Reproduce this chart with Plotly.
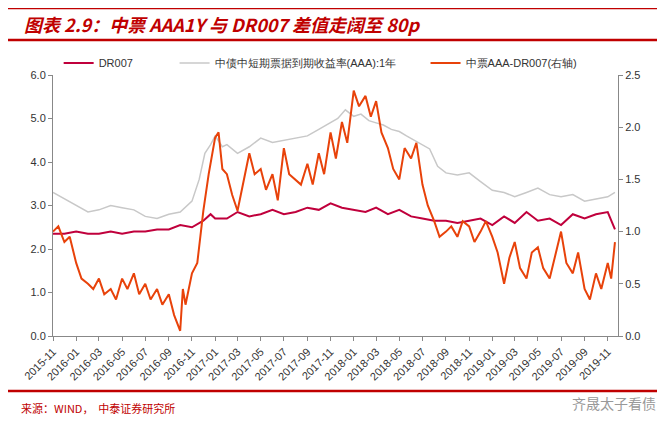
import plotly.graph_objects as go

# gray: 中债中短期票据到期收益率(AAA):1年, monthly
gray_dates = ["2015-11-01","2015-12-01","2016-01-01","2016-02-01","2016-03-01","2016-04-01","2016-05-01","2016-06-01","2016-07-01","2016-08-01","2016-09-01","2016-10-01","2016-11-01","2016-11-20","2016-12-05","2016-12-20","2017-01-01","2017-01-20","2017-02-01","2017-03-01","2017-04-01","2017-05-01","2017-06-01","2017-07-01","2017-08-01","2017-09-01","2017-10-01","2017-11-01","2017-11-20","2017-12-10","2018-01-01","2018-01-20","2018-02-10","2018-03-01","2018-03-20","2018-04-10","2018-05-01","2018-05-20","2018-06-10","2018-07-01","2018-07-20","2018-08-10","2018-09-01","2018-10-01","2018-11-01","2018-12-01","2019-01-01","2019-02-01","2019-03-01","2019-04-01","2019-05-01","2019-06-01","2019-07-01","2019-08-01","2019-09-01","2019-10-01","2019-11-01","2019-11-20"]
gray_vals = [3.30,3.15,3.00,2.85,2.90,3.00,2.95,2.90,2.75,2.70,2.80,2.85,3.10,3.60,4.20,4.40,4.60,4.35,4.40,4.20,4.35,4.55,4.45,4.50,4.55,4.60,4.75,4.90,5.00,5.20,5.05,5.10,4.95,4.90,4.85,4.75,4.70,4.60,4.50,4.40,4.30,3.90,3.75,3.70,3.75,3.55,3.35,3.30,3.20,3.30,3.40,3.25,3.20,3.25,3.10,3.15,3.20,3.30]

# DR007, monthly-ish
dr_dates = ["2015-11-01","2015-12-01","2016-01-01","2016-02-01","2016-03-01","2016-04-01","2016-05-01","2016-06-01","2016-07-01","2016-08-01","2016-09-01","2016-10-01","2016-11-01","2016-12-01","2016-12-20","2017-01-01","2017-02-01","2017-03-01","2017-04-01","2017-05-01","2017-06-01","2017-07-01","2017-08-01","2017-09-01","2017-10-01","2017-11-01","2017-12-01","2018-01-01","2018-02-01","2018-03-01","2018-04-01","2018-05-01","2018-06-01","2018-07-01","2018-08-01","2018-09-01","2018-10-01","2018-11-01","2018-12-01","2019-01-01","2019-02-01","2019-03-01","2019-04-01","2019-05-01","2019-06-01","2019-07-01","2019-08-01","2019-09-01","2019-10-01","2019-11-01","2019-11-20"]
dr_vals = [2.35,2.35,2.40,2.35,2.35,2.40,2.35,2.40,2.40,2.45,2.45,2.55,2.50,2.65,2.80,2.70,2.70,2.85,2.75,2.80,2.90,2.80,2.85,2.95,2.90,3.05,2.95,2.90,2.85,2.95,2.80,2.90,2.75,2.70,2.65,2.65,2.60,2.65,2.70,2.55,2.75,2.60,2.85,2.65,2.70,2.55,2.80,2.70,2.80,2.85,2.45]

# 中票AAA-DR007(右轴), semi-monthly
sp_dates = ["2015-11-01","2015-11-15","2015-12-01","2015-12-15","2016-01-01","2016-01-15","2016-02-01","2016-02-15","2016-03-01","2016-03-15","2016-04-01","2016-04-15","2016-05-01","2016-05-15","2016-06-01","2016-06-15","2016-07-01","2016-07-15","2016-08-01","2016-08-15","2016-09-01","2016-09-15","2016-10-01","2016-10-08","2016-10-15","2016-11-01","2016-11-15","2016-12-01","2016-12-15","2017-01-01","2017-01-10","2017-01-20","2017-02-01","2017-02-15","2017-03-01","2017-03-15","2017-04-01","2017-04-15","2017-05-01","2017-05-15","2017-06-01","2017-06-15","2017-07-01","2017-07-15","2017-08-01","2017-08-15","2017-09-01","2017-09-15","2017-10-01","2017-10-15","2017-11-01","2017-11-15","2017-12-01","2017-12-15","2018-01-01","2018-01-15","2018-02-01","2018-02-15","2018-03-01","2018-03-15","2018-04-01","2018-04-15","2018-05-01","2018-05-15","2018-06-01","2018-06-15","2018-07-01","2018-07-15","2018-08-01","2018-08-15","2018-09-01","2018-09-15","2018-10-01","2018-10-15","2018-11-01","2018-11-15","2018-12-01","2018-12-15","2019-01-01","2019-01-15","2019-02-01","2019-02-15","2019-03-01","2019-03-15","2019-04-01","2019-04-15","2019-05-01","2019-05-15","2019-06-01","2019-06-15","2019-07-01","2019-07-15","2019-08-01","2019-08-15","2019-09-01","2019-09-15","2019-10-01","2019-10-15","2019-11-01","2019-11-10","2019-11-20"]
sp_vals = [1.00,1.05,0.90,0.95,0.70,0.55,0.50,0.45,0.55,0.40,0.45,0.35,0.55,0.45,0.60,0.40,0.50,0.35,0.45,0.30,0.40,0.20,0.05,0.45,0.30,0.60,0.70,1.20,1.55,1.90,1.95,1.60,1.55,1.35,1.20,1.45,1.75,1.55,1.60,1.40,1.55,1.30,1.80,1.55,1.50,1.45,1.65,1.45,1.75,1.55,1.95,1.70,2.05,1.85,2.35,2.20,2.30,2.10,2.25,1.95,1.80,1.60,1.50,1.80,1.70,1.85,1.45,1.25,1.10,0.95,1.00,1.05,0.95,1.10,1.05,0.90,1.00,1.10,0.95,0.80,0.50,0.75,0.90,0.65,0.55,0.80,0.85,0.65,0.55,0.75,1.00,0.70,0.60,0.80,0.45,0.35,0.60,0.45,0.70,0.55,0.90]

tick_vals = ["2015-11","2016-01","2016-03","2016-05","2016-07","2016-09","2016-11","2017-01","2017-03","2017-05","2017-07","2017-09","2017-11","2018-01","2018-03","2018-05","2018-07","2018-09","2018-11","2019-01","2019-03","2019-05","2019-07","2019-09","2019-11"]

fig = go.Figure()
fig.add_trace(go.Scatter(x=dr_dates, y=dr_vals, name="DR007" + "\u00a0" * 12, mode="lines",
                         line=dict(color="#C0003C", width=2)))
fig.add_trace(go.Scatter(x=gray_dates, y=gray_vals, name="中债中短期票据到期收益率(AAA):1年" + "\u00a0" * 8, mode="lines",
                         line=dict(color="#C8C8C8", width=1.5)))
fig.add_trace(go.Scatter(x=sp_dates, y=sp_vals, name="中票AAA-DR007(右轴)", mode="lines", yaxis="y2",
                         line=dict(color="#E8420A", width=2)))

axis_font = dict(family="Liberation Sans, Arial", size=11, color="#333")
fig.update_layout(
    width=665, height=426,
    margin=dict(l=45, r=55, t=67, b=98),
    paper_bgcolor="white", plot_bgcolor="white",
    showlegend=True,
    legend=dict(orientation="h", x=0.01, y=0.99, xanchor="left", yanchor="bottom",
                font=dict(family="Liberation Sans, Arial", size=11, color="#333"),
                bgcolor="rgba(0,0,0,0)", itemwidth=30, traceorder="normal"),
    xaxis=dict(type="date", range=["2015-11-01","2019-11-28"], tickvals=tick_vals, ticktext=tick_vals,
               tickangle=-45, showgrid=False, showline=True, linecolor="#888", ticks="outside",
               ticklen=4, tickcolor="#888", tickfont=axis_font),
    yaxis=dict(range=[0,6], dtick=1, tickformat=".1f", showgrid=False, showline=True, linecolor="#888",
               ticks="outside", ticklen=4, tickcolor="#888", tickfont=axis_font, zeroline=False),
    yaxis2=dict(range=[0,2.5], dtick=0.5, tickformat=".1f", overlaying="y", side="right",
                showgrid=False, showline=True, linecolor="#888", ticks="outside", ticklen=4,
                tickcolor="#888", tickfont=axis_font, zeroline=False),
)
red = "#C00000"
for yy in [1.257, 1.134, -0.211]:
    fig.add_shape(type="line", xref="paper", yref="paper", x0=-0.08, x1=1.12, y0=yy, y1=yy,
                  line=dict(color=red, width=2.5))
fig.add_annotation(xref="paper", yref="paper", x=-0.055, y=1.195, xanchor="left", yanchor="middle",
                   text="<b><i>图表 2.9：中票 AAA1Y 与 DR007 差值走阔至 80p</i></b>", showarrow=False,
                   font=dict(family="Noto Sans CJK SC", size=18, color=red))
fig.add_annotation(xref="paper", yref="paper", x=-0.06, y=-0.275, xanchor="left", yanchor="middle",
                   text="来源：WIND，  中泰证券研究所", showarrow=False,
                   font=dict(family="Noto Sans CJK SC", size=11, color=red))
fig.add_annotation(xref="paper", yref="paper", x=1.07, y=-0.255, xanchor="right", yanchor="middle",
                   text="齐晟太子看债", showarrow=False,
                   font=dict(family="Noto Sans CJK SC", size=14, color="#999"))
fig.write_html("out.html")
